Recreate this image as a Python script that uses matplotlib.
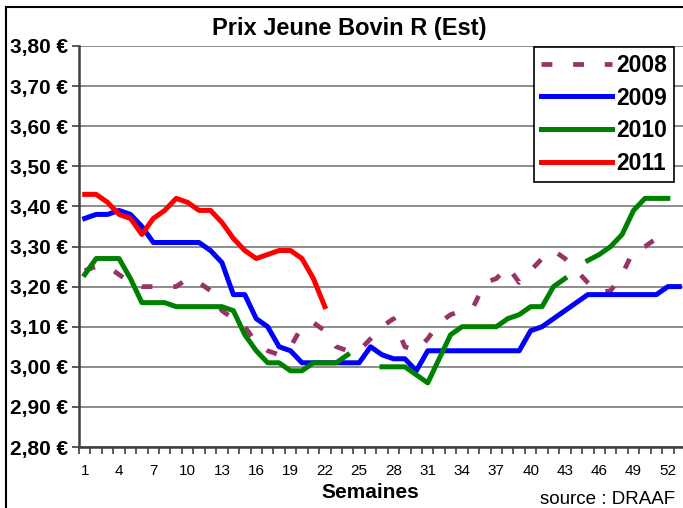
import numpy as np
import matplotlib
matplotlib.use('Agg')
import matplotlib.pyplot as plt
from matplotlib.patches import Rectangle
from matplotlib.ticker import FixedLocator, FuncFormatter

plt.rcParams['font.family'] = ['Liberation Sans', 'DejaVu Sans']

nan = np.nan

# semaines 1..53
weeks = np.arange(1, 54)

# prix par semaine
prix_2008 = [3.24, 3.25, 3.25, 3.23, 3.21, 3.20, 3.20, 3.20, 3.20, 3.22,
             3.21, 3.19, 3.14, 3.12, 3.10, 3.06, 3.04, 3.03, 3.05, 3.10,
             3.11, 3.09, 3.05, 3.04, 3.04, 3.07, 3.10, 3.12, 3.05, 3.04,
             3.07, 3.11, 3.13, 3.14, 3.15, 3.21, 3.22, 3.25, 3.21, 3.24,
             3.27, 3.29, 3.27, 3.24, 3.21, 3.185, 3.19, 3.23, 3.29, 3.30,
             3.32, 3.35, nan]
prix_2009 = [3.37, 3.38, 3.38, 3.39, 3.38, 3.35, 3.31, 3.31, 3.31, 3.31,
             3.31, 3.29, 3.26, 3.18, 3.18, 3.12, 3.10, 3.05, 3.04, 3.01,
             3.01, 3.01, 3.01, 3.01, 3.01, 3.05, 3.03, 3.02, 3.02, 2.99,
             3.04, 3.04, 3.04, 3.04, 3.04, 3.04, 3.04, 3.04, 3.04, 3.09,
             3.10, 3.12, 3.14, 3.16, 3.18, 3.18, 3.18, 3.18, 3.18, 3.18,
             3.18, 3.20, 3.20]
prix_2010 = [3.23, 3.27, 3.27, 3.27, 3.22, 3.16, 3.16, 3.16, 3.15, 3.15,
             3.15, 3.15, 3.15, 3.14, 3.08, 3.04, 3.01, 3.01, 2.99, 2.99,
             3.01, 3.01, 3.01, 3.03, nan, nan, 3.00, 3.00, 3.00, 2.98,
             2.96, 3.02, 3.08, 3.10, 3.10, 3.10, 3.10, 3.12, 3.13, 3.15,
             3.15, 3.20, 3.22, nan, 3.265, 3.28, 3.30, 3.33, 3.39, 3.42,
             3.42, 3.42, nan]
prix_2011 = [3.43, 3.43, 3.41, 3.38, 3.37, 3.33, 3.37, 3.39, 3.42, 3.41,
             3.39, 3.39, 3.36, 3.32, 3.29, 3.27, 3.28, 3.29, 3.29, 3.27,
             3.22, 3.15] + [nan] * 31

W, H = 683, 508
fig = plt.figure(figsize=(W / 100, H / 100), dpi=100)
fig.patch.set_facecolor('white')
ax = fig.add_axes([79 / W, 1 - 447 / H, 606 / W, 401 / H])

ax.plot(weeks, prix_2008, color='#993366', lw=3.4, dashes=(2.3, 4.4),
        dash_capstyle='butt', label='2008')
ax.plot(weeks, prix_2009, color='#0000FF', lw=3.6, label='2009')
ax.plot(weeks, prix_2010, color='#008000', lw=3.6, label='2010')
ax.plot(weeks, prix_2011, color='#FF0000', lw=3.6, label='2011')

ax.set_xlim(0.5, 53.5)
ax.set_ylim(2.80, 3.80)

# axe des y
yt = np.round(np.arange(2.80, 3.81, 0.10), 2)
ax.set_yticks(yt)
ax.yaxis.set_major_formatter(FuncFormatter(lambda v, p: ('%.2f €' % v).replace('.', ',')))
ax.tick_params(axis='y', which='major', length=5, width=1.2, color='#404040',
               labelsize=15, pad=3)
for t in ax.get_yticklabels():
    t.set_fontweight('bold')
ax.yaxis.grid(True, color='#8c8c8c', lw=1.4)
ax.set_axisbelow(True)

# axe des x : graduations entre les semaines, etiquettes toutes les 3 semaines
ax.xaxis.set_major_locator(FixedLocator(np.arange(0.5, 54, 1)))
ax.xaxis.set_major_formatter(FuncFormatter(lambda v, p: ''))
ax.xaxis.set_minor_locator(FixedLocator(np.arange(1, 54, 3)))
ax.xaxis.set_minor_formatter(FuncFormatter(lambda v, p: '%d' % v))
ax.tick_params(axis='x', which='major', length=5, width=1.2, color='#404040')
ax.tick_params(axis='x', which='minor', length=0, labelsize=11, pad=12)

for s in ['top', 'right']:
    ax.spines[s].set_visible(False)
ax.spines['left'].set_color('#404040')
ax.spines['left'].set_linewidth(1.8)
ax.spines['bottom'].set_color('#404040')
ax.spines['bottom'].set_linewidth(1.8)

leg = ax.legend(loc='upper right', bbox_to_anchor=(674 / W, 1 - 47 / H),
                bbox_transform=fig.transFigure, borderaxespad=0,
                fancybox=False, edgecolor='black', framealpha=1,
                prop={'size': 16.5, 'weight': 'bold'}, handlelength=3.1,
                handletextpad=0.2, labelspacing=0.42, borderpad=0.3)
leg.get_frame().set_linewidth(1.2)

fig.text(349 / W, 1 - 29 / H, 'Prix Jeune Bovin R (Est)', ha='center',
         va='center', fontsize=17, fontweight='bold')
fig.text(370 / W, 1 - 493 / H, 'Semaines', ha='center', va='center',
         fontsize=15, fontweight='bold')
fig.text(540 / W, 1 - 499 / H, 'source : DRAAF', ha='left', va='center',
         fontsize=13.5)

fig.patches.append(Rectangle((6 / W, -0.1), 1.2, 1.1 - 7 / H,
                             transform=fig.transFigure, fill=False,
                             edgecolor='black', lw=1.5))

fig.savefig('out.png', dpi=100)
